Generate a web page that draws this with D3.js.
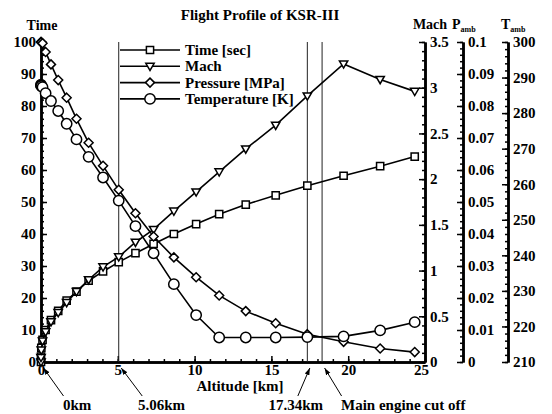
<!DOCTYPE html>
<html>
<head>
<meta charset="utf-8">
<script src="https://cdn.jsdelivr.net/npm/d3@7"></script>
<style>
  body { margin: 0; background: #fff; }
  svg text { font-family: "Liberation Serif", "Times New Roman", serif; font-weight: bold; fill: #000; }
</style>
</head>
<body>
<svg id="chart" width="552" height="414"></svg>
<script>
// values
const altitude    = [0, 0.0, 0.02, 0.1, 0.3, 0.65, 1.12, 1.67, 2.31, 3.1, 4.04, 5.06, 6.15, 7.33, 8.65, 10.1, 11.6, 13.33, 15.28, 17.34, 19.7, 22.08, 24.33];
const timeSec     = [0, 1.7, 4.4, 6.9, 10.0, 13.1, 16.0, 19.2, 22.0, 25.4, 28.3, 31.2, 34.0, 36.9, 40.0, 43.1, 46.2, 49.2, 52.1, 55.1, 58.2, 61.2, 64.2];
const mach        = [0, 0.05, 0.13, 0.23, 0.33, 0.44, 0.54, 0.65, 0.77, 0.9, 1.04, 1.15, 1.31, 1.45, 1.65, 1.86, 2.08, 2.33, 2.59, 2.91, 3.26, 3.09, 2.96];
const pressure    = [0.1, 0.1, 0.0999, 0.0996, 0.0969, 0.093, 0.0881, 0.0826, 0.076, 0.0685, 0.0613, 0.0538, 0.0465, 0.0392, 0.0327, 0.0265, 0.0208, 0.0159, 0.0121, 0.0087, 0.0063, 0.0042, 0.0031];
const temperature = [288, 287.8, 287.6, 287.3, 285.6, 283.4, 280.6, 277.0, 272.6, 267.7, 261.9, 255.4, 248.2, 240.6, 231.9, 223.2, 216.9, 216.9, 216.9, 217.0, 217.2, 218.9, 221.2];

const seriesNames = ['Time [sec]', 'Mach', 'Pressure [MPa]', 'Temperature [K]'];
const eventLines  = [5.06, 17.34, 18.3];
const eventAlt    = [0, 5.06, 17.34, 18.3];
const eventLabels = ['0km', '5.06km', '17.34km', 'Main engine cut off'];

const svg = d3.select('#chart');
const mLeft = 41, mRight = 425, mTop = 42, mBottom = 362;

const x = d3.scaleLinear().domain([0, 25]).range([mLeft, mRight]);
const yTime = d3.scaleLinear().domain([0, 100]).range([mBottom, mTop]);
const yMach = d3.scaleLinear().domain([0, 3.5]).range([mBottom, mTop]);
const yP = d3.scaleLinear().domain([0, 0.1]).range([mBottom, mTop]);
const yT = d3.scaleLinear().domain([210, 300]).range([mBottom, mTop]);

// arrow head
svg.append('defs').append('marker')
    .attr('id', 'arrow')
    .attr('viewBox', '0 0 10 10')
    .attr('refX', 10).attr('refY', 5)
    .attr('markerWidth', 7).attr('markerHeight', 7)
    .attr('markerUnits', 'userSpaceOnUse')
    .attr('orient', 'auto')
    .append('path').attr('d', 'M0,1.5L10,5L0,8.5Z').attr('fill', '#000');

// title
svg.append('text')
    .attr('x', 260).attr('y', 20)
    .attr('text-anchor', 'middle')
    .style('font-size', '15px')
    .text('Flight Profile of KSR-III');

// axes helper: major + minor ticks pointing inward
function drawAxis(axisFn, scale, pos, majors, minors, fmt) {
    const g = svg.append('g').attr('transform', pos);
    g.call(axisFn(scale).tickValues(minors).tickSize(-3).tickSizeOuter(0).tickFormat(''));
    const gm = svg.append('g').attr('transform', pos);
    gm.call(axisFn(scale).tickValues(majors).tickSize(-6).tickSizeOuter(0).tickPadding(5).tickFormat(fmt));
    [g, gm].forEach(a => {
        a.select('.domain').attr('stroke-width', 2.5).attr('stroke', '#000');
        a.selectAll('.tick line').attr('stroke-width', 1.5).attr('stroke', '#000');
        a.selectAll('.tick text').style('font-size', '15px').attr('font-family', null);
    });
    return gm;
}

const fmt = d3.format('~g');
const byStep = (a, b, n) => d3.range(0, n + 1).map(i => +(a + (b - a) * i / n).toFixed(6));

drawAxis(d3.axisLeft, yTime, `translate(${mLeft},0)`, byStep(0, 100, 10), byStep(0, 100, 50), fmt);
const xAx = drawAxis(d3.axisBottom, x, `translate(0,${mBottom})`, byStep(0, 25, 5), byStep(0, 25, 25), fmt);
xAx.selectAll('.tick text').attr('y', 2);
xAx.selectAll('.tick text').filter(d => d === 25).attr('dx', -4);
drawAxis(d3.axisRight, yMach, `translate(${mRight},0)`, byStep(0, 3.5, 7), byStep(0, 3.5, 35), fmt);
drawAxis(d3.axisRight, yP, 'translate(463,0)', byStep(0, 0.1, 10), byStep(0, 0.1, 50), fmt);
drawAxis(d3.axisRight, yT, 'translate(508,0)', byStep(210, 300, 9), byStep(210, 300, 45), fmt);

// axis titles
svg.append('text').attr('x', 42).attr('y', 30).attr('text-anchor', 'middle').style('font-size', '14px').text('Time');
svg.append('text').attr('x', 430).attr('y', 29).attr('text-anchor', 'middle').style('font-size', '14px').text('Mach');
const pT = svg.append('text').attr('x', 452).attr('y', 29).style('font-size', '14px').text('P');
pT.append('tspan').attr('dy', 3).style('font-size', '8px').text('amb');
const tT = svg.append('text').attr('x', 501).attr('y', 29).style('font-size', '14px').text('T');
tT.append('tspan').attr('dy', 3).style('font-size', '8px').text('amb');
svg.append('text').attr('x', 240).attr('y', 391).attr('text-anchor', 'middle').style('font-size', '15px').text('Altitude [km]');

// event vertical lines
svg.selectAll('.evline').data(eventLines).enter().append('line')
    .attr('class', 'evline')
    .attr('x1', d => x(d)).attr('x2', d => x(d))
    .attr('y1', mTop).attr('y2', mBottom)
    .attr('stroke', '#222').attr('stroke-width', 1);

// markers
const symbols = {
    square: s => `M${-s},${-s}H${s}V${s}H${-s}Z`,
    tri: s => `M${-s * 1.1},${-s * 0.8}H${s * 1.1}L0,${s * 1.1}Z`,
    diamond: s => `M0,${-s * 1.25}L${s * 1.25},0L0,${s * 1.25}L${-s * 1.25},0Z`,
    circle: s => `M${-s * 1.4},0A${s * 1.4},${s * 1.4} 0 1,0 ${s * 1.4},0A${s * 1.4},${s * 1.4} 0 1,0 ${-s * 1.4},0Z`
};

const series = [
    { name: seriesNames[0], vals: timeSec, y: yTime, sym: 'square', size: 3.6 },
    { name: seriesNames[1], vals: mach, y: yMach, sym: 'tri', size: 3.8 },
    { name: seriesNames[2], vals: pressure, y: yP, sym: 'diamond', size: 3.6 },
    { name: seriesNames[3], vals: temperature, y: yT, sym: 'circle', size: 3.7 }
];

series.forEach(s => {
    const pts = altitude.map((a, i) => [x(a), s.y(s.vals[i])]);
    svg.append('path')
        .attr('d', d3.line()(pts))
        .attr('fill', 'none').attr('stroke', '#000').attr('stroke-width', 1.6);
    svg.selectAll(null).data(pts).enter().append('path')
        .attr('transform', d => `translate(${d[0]},${d[1]})`)
        .attr('d', symbols[s.sym](s.size))
        .attr('fill', '#fff').attr('stroke', '#000').attr('stroke-width', 1.5);
});

// legend
const legend = svg.append('g').attr('transform', 'translate(120,50)');
series.forEach((s, i) => {
    const row = legend.append('g').attr('transform', `translate(0,${i * 16.3})`);
    row.append('line').attr('x1', 0).attr('x2', 60).attr('stroke', '#000').attr('stroke-width', 1.6);
    row.append('path').attr('transform', 'translate(30,0)').attr('d', symbols[s.sym](s.size))
        .attr('fill', '#fff').attr('stroke', '#000').attr('stroke-width', 1.5);
    row.append('text').attr('x', 65).attr('y', 5).style('font-size', '15px').text(s.name);
});

// event annotations
const tailDx = [20, 21, -12, 17];
const textX = [63, 138, 323, 341];
const textAnchor = ['start', 'start', 'end', 'start'];
eventAlt.forEach((a, i) => {
    const hx = x(a) + 2.5;
    svg.append('line')
        .attr('x1', hx + tailDx[i]).attr('y1', 396)
        .attr('x2', hx).attr('y2', 368)
        .attr('stroke', '#000').attr('stroke-width', 1)
        .attr('marker-end', 'url(#arrow)');
    svg.append('text')
        .attr('x', textX[i]).attr('y', 410)
        .attr('text-anchor', textAnchor[i])
        .style('font-size', '15px')
        .text(eventLabels[i]);
});
</script>
</body>
</html>
